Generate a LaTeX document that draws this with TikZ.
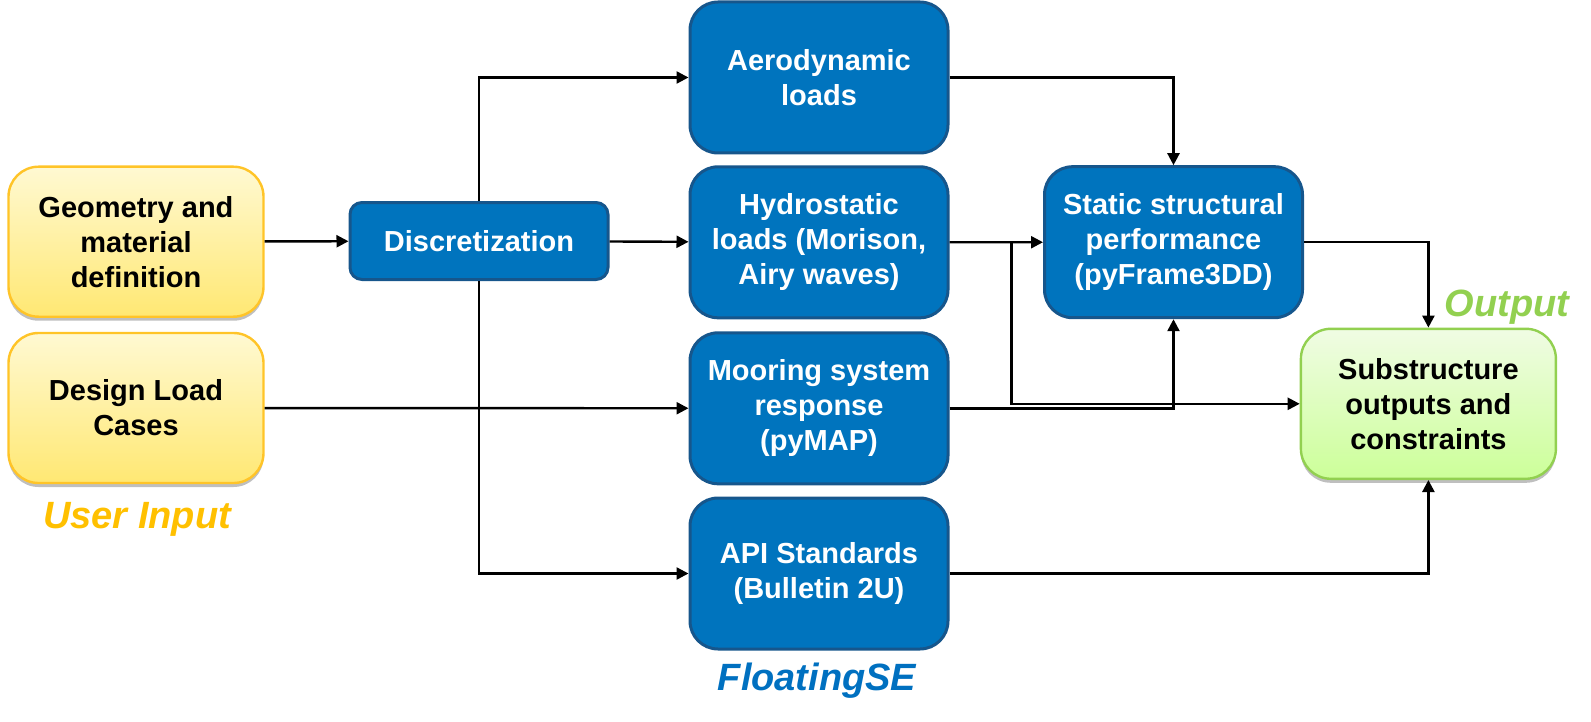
\documentclass[tikz,border=0pt]{standalone}
\usepackage{fontspec}
\setmainfont{Liberation Sans}
\usetikzlibrary{arrows.meta,shadows}
\definecolor{bfill}{RGB}{0,116,190}
\definecolor{bdraw}{RGB}{22,86,140}
\definecolor{ydraw}{RGB}{255,196,40}
\definecolor{ytop}{RGB}{255,249,210}
\definecolor{ybot}{RGB}{255,232,115}
\definecolor{gdraw}{RGB}{146,208,80}
\definecolor{gtop}{RGB}{240,252,228}
\definecolor{gbot}{RGB}{204,255,153}
\definecolor{uicol}{RGB}{255,192,0}
\definecolor{fscol}{RGB}{0,112,192}
\definecolor{outcol}{RGB}{146,208,80}
\begin{document}
\begin{tikzpicture}[x=0.5pt,y=-0.5pt,
  txt/.style={font=\fontsize{14.5pt}{17.5pt}\selectfont\bfseries, align=center, inner sep=0pt},
  bluebox/.style={txt, rectangle, rounded corners=14pt, fill=bfill, draw=bdraw, line width=1.5pt, text=white, minimum width=129pt, minimum height=75.5pt},
  smallblue/.style={bluebox, rounded corners=6pt, minimum height=38.5pt},
  yelbox/.style={txt, rectangle, rounded corners=15pt, top color=ytop, bottom color=ybot, draw=ydraw, line width=1.2pt, text=black, minimum width=127.5pt, minimum height=75pt, drop shadow={shadow xshift=0pt, shadow yshift=-2pt, opacity=0.25, fill=black}},
  grnbox/.style={yelbox, top color=gtop, bottom color=gbot, draw=gdraw},
  lbl/.style={font=\fontsize{19pt}{22pt}\selectfont\bfseries\itshape, inner sep=0pt},
  arr/.style={line width=1.2pt, -{Triangle[length=6pt,width=6pt]}}
]
\useasboundingbox (0,0) rectangle (1591,722);

\node[yelbox] (geom) at (136,241.7) {Geometry and\\material\\definition};
\node[yelbox] (design) at (136,408) {Design Load\\Cases};
\node[lbl, text=uicol] (ui) at (137,519) {User Input};

\node[smallblue] (disc) at (479,241) {Discretization};

\node[bluebox] (aero) at (819,77.5) {Aerodynamic\\loads};
\node[bluebox] (hydro) at (819,242.3) {Hydrostatic\\loads (Morison,\\Airy waves)};
\node[bluebox] (moor) at (819,408.3) {Mooring system\\response\\(pyMAP)};
\node[bluebox] (api) at (819,573.5) {API Standards\\(Bulletin 2U)};
\node[lbl, text=fscol] (fse) at (817,681) {FloatingSE};

\node[bluebox] (stat) at (1173.5,242.2) {Static structural\\performance\\(pyFrame3DD)};

\node[grnbox] (sub) at (1428.4,403.8) {Substructure\\outputs and\\constraints};
\node[lbl, text=outcol] (out) at (1507,307) {Output};

\draw[arr] (geom) -- (disc);
\draw[arr] (disc) -- (hydro);
\draw[arr] (disc.north) |- (aero.west);
\draw[arr] (disc.south) |- (api.west);
\draw[arr] (design) -- (moor);
\draw[arr] (aero.east) -| (stat.north);
\draw[arr] (hydro) -- (stat);
\path (hydro.east) ++(62,0) coordinate (br);
\draw[arr] (br) |- (sub.west);
\draw[arr] (moor.east) -| (stat.south);
\draw[arr] (stat.east) -| (sub.north);
\draw[arr] (api.east) -| (sub.south);
\end{tikzpicture}
\end{document}
